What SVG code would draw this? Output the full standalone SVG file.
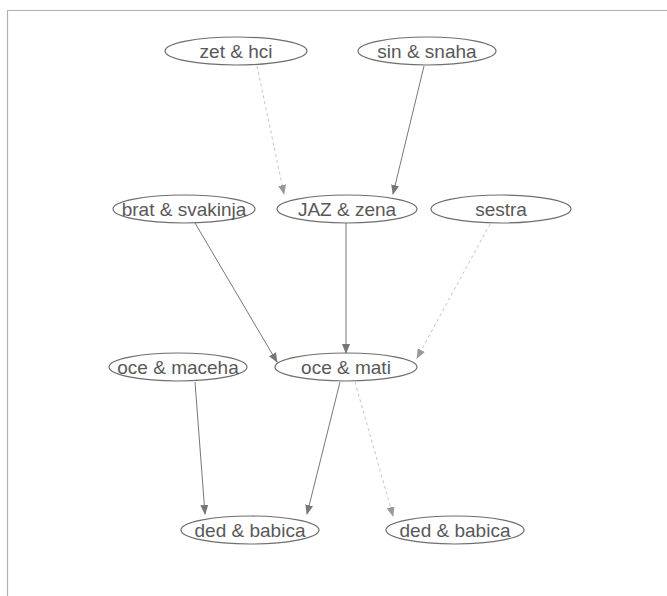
<svg xmlns="http://www.w3.org/2000/svg" width="667" height="596" viewBox="0 0 667 596">
<style>
.n ellipse{fill:none;stroke:#6e6e6e;stroke-width:1.2}
.n text{font-family:"Liberation Sans",Arial,sans-serif;font-size:19px;fill:#585858;text-anchor:middle}
.e{stroke:#777;stroke-width:1;fill:none;marker-end:url(#ah)}
.d{stroke:#c4c4c4;stroke-dasharray:3 3;marker-end:url(#ahl)}
</style>
<defs>
<marker id="ah" markerWidth="10" markerHeight="8" refX="9" refY="4" orient="auto" markerUnits="userSpaceOnUse"><path d="M0,0 L10,4 L0,8 Z" fill="#777"/></marker>
<marker id="ahl" markerWidth="10" markerHeight="8" refX="9" refY="4" orient="auto" markerUnits="userSpaceOnUse"><path d="M0,0 L10,4 L0,8 Z" fill="#999"/></marker>
</defs>
<rect width="667" height="596" fill="#fff"/>
<path d="M7.5,596 V10.5 H667" fill="none" stroke="#b0b0b0" stroke-width="1.2"/>
<g id="edges">
<path class="e d" d="M257,66 L284,194"/>
<path class="e" d="M424,66 L393,194"/>
<path class="e" d="M195,223 L277,362"/>
<path class="e" d="M346,223 L346,353"/>
<path class="e d" d="M490,224 L417,358"/>
<path class="e" d="M195,382 L205,514"/>
<path class="e" d="M340,382 L307,514"/>
<path class="e d" d="M355,382 L393,516"/>
</g>
<g id="zet" class="n"><ellipse cx="236" cy="51" rx="71" ry="14"/><text x="236" y="58">zet &amp; hci</text></g>
<g id="sin" class="n"><ellipse cx="427" cy="51" rx="69" ry="14"/><text x="427" y="58">sin &amp; snaha</text></g>
<g id="brat" class="n"><ellipse cx="184" cy="209" rx="71" ry="14"/><text x="184" y="216">brat &amp; svakinja</text></g>
<g id="jaz" class="n"><ellipse cx="347" cy="209" rx="70" ry="14"/><text x="347" y="216">JAZ &amp; zena</text></g>
<g id="sestra" class="n"><ellipse cx="501" cy="209" rx="70" ry="14"/><text x="501" y="216">sestra</text></g>
<g id="maceha" class="n"><ellipse cx="178" cy="367" rx="69" ry="14"/><text x="178" y="374">oce &amp; maceha</text></g>
<g id="mati" class="n"><ellipse cx="346" cy="367" rx="71" ry="14"/><text x="346" y="374">oce &amp; mati</text></g>
<g id="ded1" class="n"><ellipse cx="250" cy="530" rx="69" ry="14"/><text x="250" y="537">ded &amp; babica</text></g>
<g id="ded2" class="n"><ellipse cx="455" cy="530" rx="69" ry="14"/><text x="455" y="537">ded &amp; babica</text></g>
</svg>
